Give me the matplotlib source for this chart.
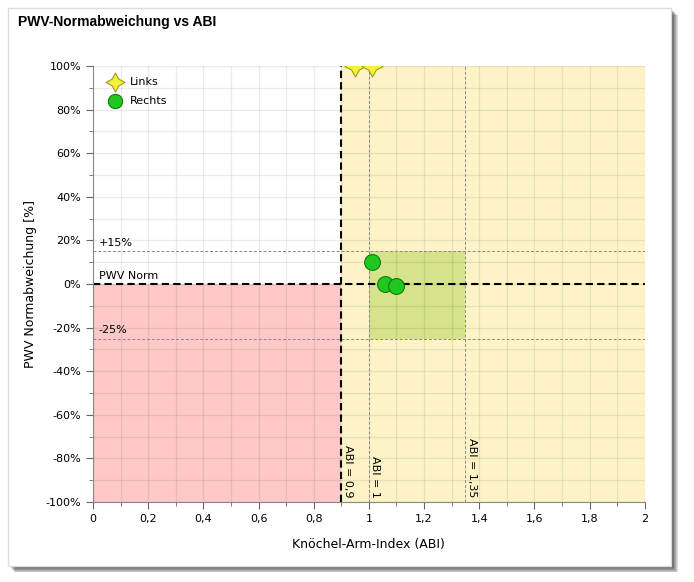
import matplotlib.pyplot as plt
from matplotlib.patches import Rectangle
from matplotlib.ticker import MultipleLocator, FuncFormatter

# Messwerte
rechts_abi = [1.01, 1.06, 1.10]
rechts_pwv = [10, 0, -1]
links_abi = [0.95, 1.01]
links_pwv = [100, 100]

x_ticks = [0, 0.2, 0.4, 0.6, 0.8, 1, 1.2, 1.4, 1.6, 1.8, 2]
y_ticks = [-100, -80, -60, -40, -20, 0, 20, 40, 60, 80, 100]

fig = plt.figure(figsize=(6.94, 5.82), dpi=100)

# Rahmen mit Schatten
for i in range(8):
    off = (8 - i) * 0.0012
    fig.patches.append(Rectangle((0.012 + off, 0.028 - off * 1.2), 0.955, 0.958,
                                 transform=fig.transFigure, facecolor='black',
                                 alpha=0.12, edgecolor='none', zorder=0))
fig.patches.append(Rectangle((0.012, 0.028), 0.955, 0.958, transform=fig.transFigure,
                             facecolor='white', edgecolor='#dddddd', zorder=1))

fig.text(0.026, 0.963, "PWV-Normabweichung vs ABI", fontsize=10, fontweight='bold',
         family='Liberation Sans', va='center')

ax = fig.add_axes([0.134, 0.1375, 0.795, 0.749])
ax.set_zorder(2)

# Bereiche
ax.add_patch(Rectangle((0, -100), 0.9, 100, facecolor='#ffc8c8', edgecolor='none', zorder=0))
ax.add_patch(Rectangle((0.9, -100), 1.1, 200, facecolor='#fdf3c6', edgecolor='none', zorder=0))
ax.add_patch(Rectangle((1.0, -25), 0.35, 40, facecolor='#d6e38c', edgecolor='none', zorder=0.5))

ax.xaxis.set_minor_locator(MultipleLocator(0.1))
ax.yaxis.set_minor_locator(MultipleLocator(10))
ax.grid(True, which='both', color='#000000', alpha=0.08, linewidth=0.9, zorder=0.8)
ax.set_axisbelow(True)

# Grenzlinien
ax.plot([0.9, 0.9], [-100, 100], color='black', ls=(0, (3.5, 2)), lw=1.5, zorder=2)
ax.plot([0, 2], [0, 0], color='black', ls=(0, (3.5, 2)), lw=1.5, zorder=2)
for yy in [15, -25]:
    ax.axhline(yy, color='#888888', ls=(0, (3, 2)), lw=0.7, zorder=1.5)
for xx in [1.0, 1.35]:
    ax.axvline(xx, color='#888888', ls=(0, (3, 2)), lw=0.7, zorder=1.5)

ax.text(0.02, 16.5, "+15%", fontsize=8, va='bottom')
ax.text(0.02, 1.5, "PWV Norm", fontsize=8, va='bottom')
ax.text(0.02, -23.5, "-25%", fontsize=8, va='bottom')
ax.text(0.905, -98, "ABI = 0,9", rotation=-90, fontsize=8, va='bottom', ha='left')
ax.text(1.005, -98, "ABI = 1", rotation=-90, fontsize=8, va='bottom', ha='left')
ax.text(1.355, -98, "ABI = 1,35", rotation=-90, fontsize=8, va='bottom', ha='left')

ax.scatter(links_abi, links_pwv, marker=(4, 1, 0), s=230, color='#f5f03c', edgecolors='#a09a20',
           linewidths=0.8, zorder=5, label='Links', clip_on=True)
ax.scatter(rechts_abi, rechts_pwv, marker='o', s=130, color='#1ec81e', edgecolors='#117a11',
           linewidths=0.8, zorder=5, label='Rechts')

ax.set_xlim(0, 2)
ax.set_ylim(-100, 100)
ax.set_xticks(x_ticks)
ax.set_yticks(y_ticks)
ax.xaxis.set_major_formatter(FuncFormatter(lambda v, p: ('%g' % v).replace('.', ',')))
ax.yaxis.set_major_formatter(FuncFormatter(lambda v, p: '%d%%' % v))
ax.tick_params(labelsize=8, color='#666666', length=5)
ax.tick_params(which='minor', color='#666666', length=3)
for s in ['top', 'right']:
    ax.spines[s].set_visible(False)
for s in ['left', 'bottom']:
    ax.spines[s].set_color('#888888')

ax.set_xlabel("Knöchel-Arm-Index (ABI)", fontsize=9, labelpad=10)
ax.set_ylabel("PWV Normabweichung [%]", fontsize=9, labelpad=6)

leg = ax.legend(loc='upper left', frameon=False, fontsize=8, markerscale=0.9,
                handletextpad=0.3, borderaxespad=0.6, labelspacing=0.8)

fig.savefig('out.png', dpi=100)
